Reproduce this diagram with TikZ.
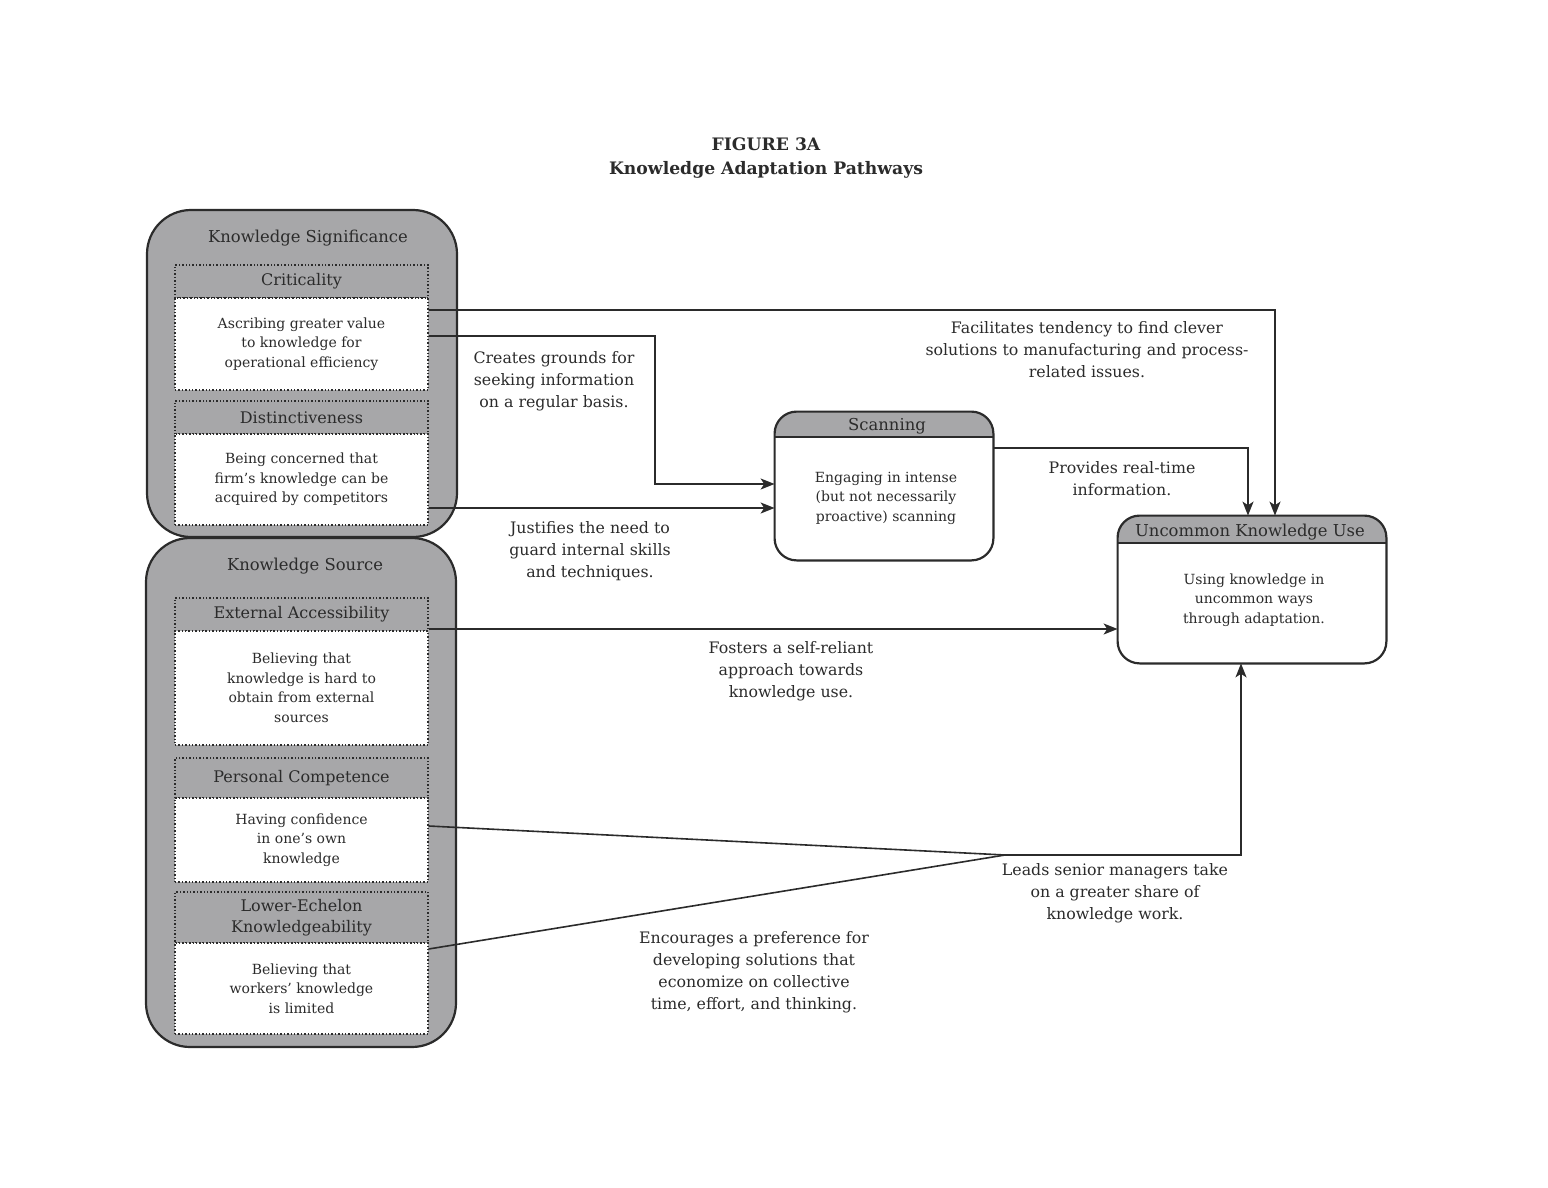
\documentclass[tikz,border=0pt]{standalone}
\usepackage{fontspec}
\setmainfont{DejaVu Serif}
\usetikzlibrary{arrows.meta}

\definecolor{boxgray}{HTML}{A7A7A9}
\definecolor{inkline}{HTML}{2B2B2B}

\begin{document}
\begin{tikzpicture}[
	x=0.5pt, y=-0.5pt,
	group/.style={rectangle, rounded corners=22pt, draw=inkline, line width=1.1pt, fill=boxgray, minimum width=155pt, inner sep=0pt},
	grptxt/.style={font=\fontsize{8.2}{10.5}\selectfont, text=inkline, inner sep=0pt},
	head/.style={rectangle, draw=inkline, densely dotted, line width=0.7pt, fill=boxgray, minimum width=126.5pt, inner sep=1pt, align=center, text=inkline, font=\fontsize{8}{10.5}\selectfont},
	body/.style={head, fill=white, font=\fontsize{7}{9.75}\selectfont},
	rbox/.style={rectangle, rounded corners=11pt, fill=white, inner sep=0pt},
	lbl/.style={font=\fontsize{7.9}{11}\selectfont, align=center, text=inkline, inner sep=0pt},
	arr/.style={draw=inkline, line width=0.8pt, -{Stealth[length=7pt, width=5.5pt, inset=1.8pt]}},
	link/.style={draw=inkline, line width=0.8pt},
	]
\useasboundingbox (0,0) rectangle (1548,1188);

\node [font=\bfseries\fontsize{8.6}{12}\selectfont, align=center, text=inkline] (fig) at (766,158) {FIGURE 3A\\Knowledge Adaptation Pathways};

% knowledge significance
\node [group, minimum height=163.5pt] (sig) at (302,373.5) {};
\node [grptxt] (sigt) at (308,238) {Knowledge Significance};
\node [head, minimum height=16.5pt] (crith) at (301.5,281.5) {Criticality};
\node [body, minimum height=46pt] (critb) at (301.5,344) {Ascribing greater value\\to knowledge for\\operational efficiency};
\node [head, minimum height=16.5pt] (disth) at (301.5,417.5) {Distinctiveness};
\node [body, minimum height=45.5pt] (distb) at (301.5,479.5) {Being concerned that\\firm’s knowledge can be\\acquired by competitors};

% knowledge source
\node [group, minimum height=254.5pt] (src) at (301,792.5) {};
\node [grptxt] (srct) at (305,566) {Knowledge Source};
\node [head, minimum height=16.5pt] (exth) at (301.5,614.5) {External Accessibility};
\node [body, minimum height=57pt] (extb) at (301.5,688) {Believing that\\knowledge is hard to\\obtain from external\\sources};
\node [head, minimum height=20pt] (persh) at (301.5,778) {Personal Competence};
\node [body, minimum height=42pt] (persb) at (301.5,840) {Having confidence\\in one’s own\\knowledge};
\node [head, minimum height=25.5pt] (lowh) at (301.5,917.5) {Lower-Echelon\\Knowledgeability};
\node [body, minimum height=45.5pt] (lowb) at (301.5,988.5) {Believing that\\workers’ knowledge\\is limited};

% scanning
\node [rbox, minimum width=109pt, minimum height=74pt] (scan) at (884,486) {};
\begin{scope}
  \clip [rounded corners=11pt] (scan.south west) rectangle (scan.north east);
  \fill [boxgray] (scan.north west) rectangle (993,437);
\end{scope}
\draw [link] (775,437) -- (993,437);
\draw [link, line width=1.1pt, rounded corners=11pt] (scan.south west) rectangle (scan.north east);
\node [grptxt] (scanh) at (887,426) {Scanning};
\node [lbl, font=\fontsize{7}{9.75}\selectfont] (scanb) at (886,498) {Engaging in intense\\(but not necessarily\\proactive) scanning};

% uncommon knowledge use
\node [rbox, minimum width=134pt, minimum height=73.5pt] (uku) at (1252,589.5) {};
\begin{scope}
  \clip [rounded corners=11pt] (uku.south west) rectangle (uku.north east);
  \fill [boxgray] (uku.north west) rectangle (1386,543);
\end{scope}
\draw [link] (1118,543) -- (1386,543);
\draw [link, line width=1.1pt, rounded corners=11pt] (uku.south west) rectangle (uku.north east);
\node [grptxt] (ukuh) at (1250,532) {Uncommon Knowledge Use};
\node [lbl, font=\fontsize{7}{9.75}\selectfont] (ukub) at (1254,600) {Using knowledge in\\uncommon ways\\through adaptation.};

% pathways
\draw [arr] (critb.east |- 0,310) -| (uku.north -| 1275,0);
\draw [arr] (critb.east |- 0,336) -- (655,336) -- (655,484) -- (scan.west |- 0,484);
\draw [arr] (distb.east |- 0,508) -- (scan.west |- 0,508);
\draw [arr] (scan.east |- 0,448) -| (uku.north -| 1248,0);
\draw [arr] (exth.east |- 0,629) -- (uku.west |- 0,629);
\coordinate (m) at (1005,855);
\draw [link] (persb.east |- 0,826) -- (m);
\draw [link] (lowb.east |- 0,949) -- (m);
\draw [arr] (m) -| (uku.south -| 1241,0);

\node [lbl] (l1) at (1087,350) {Facilitates tendency to find clever\\solutions to manufacturing and process-\\related issues.};
\node [lbl] (l2) at (554,381) {Creates grounds for\\seeking information\\on a regular basis.};
\node [lbl] (l3) at (590,551) {Justifies the need to\\guard internal skills\\and techniques.};
\node [lbl] (l4) at (1122,479) {Provides real-time\\information.};
\node [lbl] (l5) at (791,671) {Fosters a self-reliant\\approach towards\\knowledge use.};
\node [lbl] (l6) at (1115,893) {Leads senior managers take\\on a greater share of\\knowledge work.};
\node [lbl] (l7) at (754,972) {Encourages a preference for\\developing solutions that\\economize on collective\\time, effort, and thinking.};
\end{tikzpicture}
\end{document}
